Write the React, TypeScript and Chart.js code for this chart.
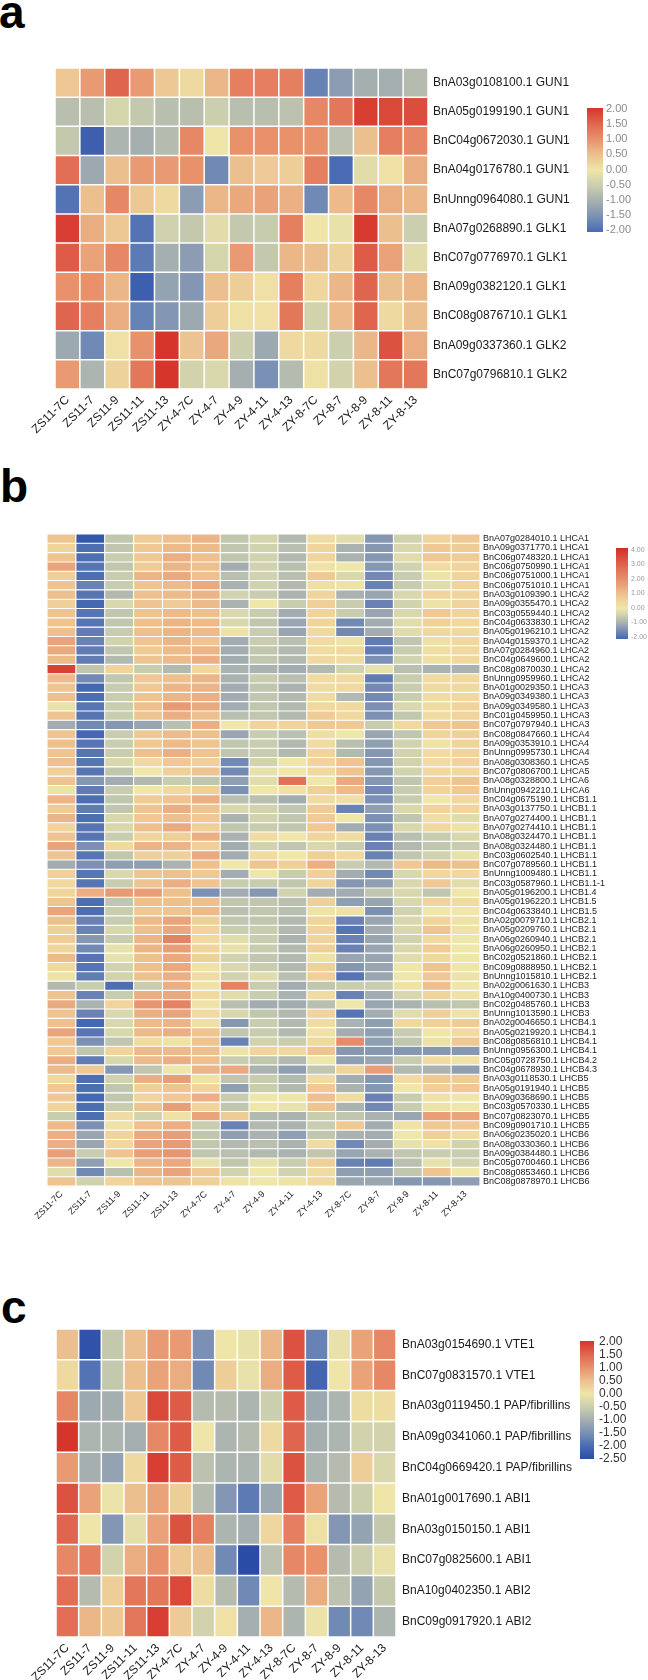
import React, { useEffect, useRef } from 'react';
import { Chart, registerables } from 'chart.js';
Chart.register(...registerables);

const COLS = ['ZS11-7C', 'ZS11-7', 'ZS11-9', 'ZS11-11', 'ZS11-13', 'ZY-4-7C', 'ZY-4-7', 'ZY-4-9', 'ZY-4-11', 'ZY-4-13', 'ZY-8-7C', 'ZY-8-7', 'ZY-8-9', 'ZY-8-11', 'ZY-8-13'];

const ROWS_A = ['BnA03g0108100.1 GUN1', 'BnA05g0199190.1 GUN1', 'BnC04g0672030.1 GUN1', 'BnA04g0176780.1 GUN1', 'BnUnng0964080.1 GUN1', 'BnA07g0268890.1 GLK1', 'BnC07g0776970.1 GLK1', 'BnA09g0382120.1 GLK1', 'BnC08g0876710.1 GLK1', 'BnA09g0337360.1 GLK2', 'BnC07g0796810.1 GLK2'];
const VALUES_A = [
  [0.4, 0.9, 1.5, 0.9, 0.4, 0.15, 0.6, 1.2, 1.2, 1.2, -1.7, -1.3, -1.0, -1.0, -0.8],
  [-0.75, -0.75, -0.35, -0.6, -0.75, -0.75, -0.5, -0.75, -0.75, -0.7, 1.1, 1.3, 1.9, 1.8, 1.75],
  [-0.6, -2.2, -0.9, -1.0, -0.8, 1.1, 0.0, 1.0, 1.0, 1.0, 1.0, -0.7, 0.5, 1.2, 1.1],
  [1.4, -1.1, 0.5, 0.9, 0.9, 1.0, -1.6, 0.5, 0.35, 0.3, 1.2, -2.0, -0.2, 0.05, 0.7],
  [-1.9, 0.5, 1.1, 0.4, 0.15, -1.3, 0.6, 0.75, 0.8, 0.65, -1.6, 0.55, 1.1, 0.7, 0.6],
  [1.9, 0.7, 0.4, -1.9, -0.45, -0.6, -0.2, -0.6, -0.55, 1.2, 0.0, -0.1, 1.95, 0.5, -0.5],
  [1.6, 0.8, 1.1, -1.8, -1.0, -1.3, -0.35, 0.9, -0.6, 0.6, 0.5, 0.25, 1.6, 0.8, -0.2],
  [1.0, 1.0, 0.6, -2.2, -1.2, -1.4, 0.5, 0.3, 0.05, 1.2, 0.2, 0.6, 1.5, 0.5, 0.6],
  [1.5, 1.2, 0.7, -1.7, -1.4, -1.1, 0.3, 0.05, 0.05, 1.3, -0.4, 0.55, 1.5, 0.15, 0.5],
  [-1.1, -1.6, 0.05, 1.0, 2.0, 0.45, 0.75, -0.5, -1.1, 0.15, 0.15, -0.5, 0.6, 1.7, 0.7],
  [0.9, -0.9, 0.25, 1.3, 2.0, -0.4, -0.3, -1.0, -1.5, -0.8, 0.05, -0.4, 0.5, 1.3, 1.3],
];

const ROWS_B = ['BnA07g0284010.1 LHCA1', 'BnA09g0371770.1 LHCA1', 'BnC06g0748320.1 LHCA1', 'BnC06g0750990.1 LHCA1', 'BnC06g0751000.1 LHCA1', 'BnC06g0751010.1 LHCA1', 'BnA03g0109390.1 LHCA2', 'BnA09g0355470.1 LHCA2', 'BnC03g0559440.1 LHCA2', 'BnC04g0633830.1 LHCA2', 'BnA05g0196210.1 LHCA2', 'BnA04g0159370.1 LHCA2', 'BnA07g0284960.1 LHCA2', 'BnC04g0649600.1 LHCA2', 'BnC08g0870030.1 LHCA2', 'BnUnng0959960.1 LHCA2', 'BnA01g0029350.1 LHCA3', 'BnA09g0349380.1 LHCA3', 'BnA09g0349580.1 LHCA3', 'BnC01g0459950.1 LHCA3', 'BnC07g0797940.1 LHCA3', 'BnC08g0847660.1 LHCA4', 'BnA09g0353910.1 LHCA4', 'BnUnng0995730.1 LHCA4', 'BnA08g0308360.1 LHCA5', 'BnC07g0806700.1 LHCA5', 'BnA08g0328800.1 LHCA6', 'BnUnng0942210.1 LHCA6', 'BnC04g0675190.1 LHCB1.1', 'BnA03g0137750.1 LHCB1.1', 'BnA07g0274400.1 LHCB1.1', 'BnA07g0274410.1 LHCB1.1', 'BnA08g0324470.1 LHCB1.1', 'BnA08g0324480.1 LHCB1.1', 'BnC03g0602540.1 LHCB1.1', 'BnC07g0789560.1 LHCB1.1', 'BnUnng1009480.1 LHCB1.1', 'BnC03g0587960.1 LHCB1.1-1', 'BnA05g0196200.1 LHCB1.4', 'BnA05g0196220.1 LHCB1.5', 'BnC04g0633840.1 LHCB1.5', 'BnA02g0079710.1 LHCB2.1', 'BnA05g0209760.1 LHCB2.1', 'BnA06g0260940.1 LHCB2.1', 'BnA06g0260950.1 LHCB2.1', 'BnC02g0521860.1 LHCB2.1', 'BnC09g0888950.1 LHCB2.1', 'BnUnng1015810.1 LHCB2.1', 'BnA02g0061630.1 LHCB3', 'BnA10g0400730.1 LHCB3', 'BnC02g0485760.1 LHCB3', 'BnUnng1013590.1 LHCB3', 'BnA02g0046650.1 LHCB4.1', 'BnA05g0219920.1 LHCB4.1', 'BnC08g0856810.1 LHCB4.1', 'BnUnng0956300.1 LHCB4.1', 'BnC05g0728750.1 LHCB4.2', 'BnC04g0678930.1 LHCB4.3', 'BnA03g0118530.1 LHCB5', 'BnA05g0191940.1 LHCB5', 'BnA09g0368690.1 LHCB5', 'BnC03g0570330.1 LHCB5', 'BnC07g0823070.1 LHCB5', 'BnC09g0901710.1 LHCB5', 'BnA06g0235020.1 LHCB6', 'BnA08g0330360.1 LHCB6', 'BnA09g0384480.1 LHCB6', 'BnC05g0700460.1 LHCB6', 'BnC08g0853460.1 LHCB6', 'BnC08g0878970.1 LHCB6'];
const VALUES_B = [
  [0.9, -2.3, -0.6, 0.7, 1.0, 1.2, -0.6, -0.35, -0.8, 0.3, -0.2, -1.3, -0.4, 0.5, 0.8],
  [0.5, -1.9, -0.6, 0.8, 1.1, 1.1, -0.6, -0.4, -0.7, 0.5, -0.9, -1.3, -0.3, 0.8, 0.7],
  [0.9, -1.9, -0.5, 0.8, 1.3, 1.0, -0.6, -0.4, -0.8, 0.5, -0.9, -1.3, -0.2, 0.8, 0.7],
  [1.5, -1.8, -0.6, 0.7, 1.2, 1.0, -1.0, -0.4, -0.7, 0.1, 0.0, -1.3, -0.4, 0.3, 0.5],
  [0.6, -1.9, -0.5, 1.2, 1.4, 1.0, -0.7, -0.4, -0.7, 0.8, -0.3, -1.5, -0.5, 0.1, 0.5],
  [0.9, -1.6, -0.5, 0.9, 1.1, 1.4, -0.9, -0.4, -0.8, 0.2, 0.1, -1.6, -0.5, -0.2, 0.5],
  [1.0, -1.8, -0.8, 1.0, 1.1, 1.2, -0.4, -0.5, -0.9, 0.5, -0.9, -1.1, -0.3, 0.5, 0.5],
  [0.6, -2.0, -0.3, 0.9, 0.7, 1.1, -0.9, 0.0, -0.5, 0.6, -0.5, -1.6, -0.4, 0.1, 0.5],
  [0.9, -1.8, -0.6, 0.9, 1.1, 1.0, -0.3, -0.5, -1.0, 0.5, -0.5, -1.1, -0.3, 0.8, 0.5],
  [0.9, -1.8, -0.6, 1.0, 1.2, 1.1, -0.3, -0.6, -1.1, 0.5, -1.5, -1.0, -0.2, 0.6, 0.4],
  [1.0, -1.7, -0.5, 1.0, 1.2, 1.1, 0.1, -0.5, -1.1, 0.4, -1.5, -1.0, -0.2, 0.4, 0.4],
  [1.5, -1.6, -0.4, 0.9, 1.2, 0.9, -1.0, -0.5, -0.7, 0.3, 0.1, -1.7, -0.6, 0.2, 0.4],
  [1.4, -1.7, -0.6, 0.7, 1.1, 1.2, -1.0, -0.6, -0.8, 0.3, 0.4, -1.7, -0.5, 0.2, 0.4],
  [1.1, -1.7, -0.8, 0.9, 1.1, 1.3, -1.0, -0.6, -0.8, 0.4, 0.3, -1.4, -0.4, 0.2, 0.4],
  [3.6, -0.6, 0.5, -0.5, -0.8, 0.4, -0.9, -0.9, -1.0, -0.8, -0.4, -0.1, -0.7, -0.9, -0.9],
  [1.1, -1.5, -0.6, 0.8, 1.0, 1.2, -0.9, -0.5, -0.7, 0.3, 0.3, -1.7, -0.5, 0.3, 0.4],
  [0.9, -2.0, -0.5, 0.8, 1.2, 1.2, -1.0, -0.6, -0.9, 0.3, 0.4, -1.5, -0.5, 0.4, 0.4],
  [1.0, -1.9, -0.5, 0.9, 1.2, 1.3, -1.0, -0.6, -0.8, 0.3, -0.8, -1.5, -0.5, 0.3, 0.4],
  [-0.1, -1.8, -0.5, 1.0, 1.7, 1.4, -1.0, -0.6, -0.8, 0.4, 0.4, -1.4, -0.3, 0.3, 0.5],
  [0.9, -1.8, -0.5, 0.9, 1.3, 1.0, -0.7, -0.6, -0.8, 0.7, 0.4, -1.4, -0.6, 0.3, 0.5],
  [-1.0, -1.5, -1.3, -1.1, -0.7, 1.3, 0.0, 0.5, 0.5, 0.8, 0.8, -0.5, 0.4, 0.8, 0.9],
  [0.9, -2.0, -0.5, 0.8, 1.1, 1.0, -1.1, -0.5, -0.7, 0.2, 0.0, -1.1, -0.6, 0.5, 0.6],
  [1.0, -1.8, -0.5, 0.8, 1.1, 0.9, -0.6, -0.5, -0.8, 0.3, -0.7, -1.2, -0.4, 0.1, 0.5],
  [0.9, -1.8, -0.5, 1.0, 1.3, 0.9, -0.6, -0.5, -0.8, 0.5, -0.8, -1.3, -0.4, 0.3, 0.5],
  [1.0, -1.8, -0.3, 0.4, 0.8, 0.6, -1.5, -0.4, 0.0, 0.5, 0.9, -1.3, -0.4, 0.3, 0.5],
  [0.6, -1.8, -0.6, 0.0, 0.6, 0.9, -1.5, -0.1, 0.0, 0.4, 0.9, -1.3, -0.4, 0.4, 0.4],
  [0.9, -1.3, -1.0, -0.8, -0.5, -0.6, -1.2, -0.2, 2.6, 0.0, 1.4, -1.3, -0.6, 0.6, 0.9],
  [0.1, -1.7, -0.5, 0.0, 0.4, 0.6, -1.4, 0.0, 0.1, 0.6, 1.1, -1.5, -0.5, 0.5, 0.8],
  [1.2, -1.9, -0.6, 0.7, 0.9, 1.3, -0.7, -0.7, -1.0, 0.3, 0.2, -1.4, -0.5, 0.0, 0.4],
  [0.7, -1.7, -0.6, 0.9, 1.3, 0.9, -0.3, -0.4, -0.6, 0.7, -1.6, -1.2, -0.3, 0.5, 0.5],
  [1.2, -1.9, -0.3, 0.8, 1.0, 0.8, -0.9, -0.4, -0.6, 0.7, 0.0, -1.4, -0.6, 0.2, -0.2],
  [0.5, -1.8, -0.3, 1.0, 1.4, 0.6, -0.6, -0.5, -0.6, 0.8, -1.0, -1.4, -0.3, 0.4, 0.1],
  [0.9, -1.8, -0.5, 0.5, 0.6, 1.3, -0.9, 0.3, 0.0, 0.5, 0.3, -1.6, -0.7, -0.5, -0.3],
  [1.5, -1.4, 0.4, 1.2, 1.2, 0.6, -1.0, -0.4, -0.6, -0.3, -0.5, -1.6, -0.8, -0.6, -0.5],
  [0.9, -1.8, -0.6, 0.6, 0.6, 1.4, -1.0, 0.3, 0.0, 0.6, 0.4, -1.6, -0.6, -0.4, -0.1],
  [-1.0, -1.4, -1.2, -1.2, -0.9, 1.0, 0.0, 0.9, 0.6, 1.3, -0.5, -0.8, 0.8, 1.1, 1.0],
  [0.6, -1.8, -0.3, 0.9, 1.0, 0.8, -1.0, 0.0, -0.5, 0.6, -1.0, -1.5, -0.3, 0.4, 0.4],
  [0.4, -1.8, -0.5, 0.9, 1.3, 0.9, -0.5, -0.5, -0.6, 0.5, -1.3, -1.2, -0.3, 0.8, -0.2],
  [0.5, 1.3, 1.7, 1.6, 1.0, -1.4, -1.0, -1.3, -0.4, -1.0, -1.0, -0.6, -0.3, -0.6, 0.0],
  [0.9, -1.9, -0.6, 1.0, 1.0, 1.0, -0.6, -0.6, -0.7, 0.6, -1.2, -1.1, -0.3, 0.5, 0.3],
  [1.5, -1.9, -0.5, 0.8, 0.9, 1.1, -0.7, -0.6, -0.7, 0.1, 0.1, -1.4, -0.4, 0.0, 0.0],
  [1.0, -1.6, -0.5, 1.1, 1.5, 0.6, -0.6, -0.6, -0.8, 0.5, -1.6, -1.1, -0.3, 0.5, 0.1],
  [0.6, -1.6, -0.3, 1.0, 1.4, 0.5, -0.5, -0.5, -0.8, 0.5, -1.8, -1.0, -0.3, 0.9, 0.1],
  [0.7, -1.3, -0.5, 1.2, 2.2, 0.4, -0.2, -0.5, -0.9, 0.5, -1.6, -1.1, -0.4, 0.4, 0.0],
  [0.5, -1.5, -0.1, 1.2, 1.6, 0.5, -0.1, -0.5, -0.8, 0.6, -1.6, -1.1, -0.3, 0.7, 0.0],
  [1.1, -1.8, -0.1, 1.0, 1.4, 0.6, -0.4, -0.6, -0.8, 0.1, -1.1, -1.1, -0.2, 0.4, 0.0],
  [0.4, -1.8, -0.4, 1.0, 1.4, 0.1, -0.3, -0.5, -0.8, 0.6, -1.3, -1.1, 0.0, 0.9, 0.0],
  [0.1, -1.7, -0.4, 1.0, 1.3, 0.3, -0.4, -0.2, -0.7, 0.6, -1.8, -1.1, 0.0, 0.8, 0.1],
  [-0.8, -0.5, -1.9, -0.5, 1.3, 0.1, 2.2, -0.5, -1.0, -0.6, -0.5, -0.5, 0.1, 1.0, 0.0],
  [0.9, -1.6, -0.5, 1.3, 1.4, 0.4, -0.2, -0.5, -0.9, 0.3, -1.6, -1.0, -0.3, 0.5, 0.1],
  [1.4, -0.9, 0.5, 1.8, 2.2, 0.1, -0.7, -1.0, -1.0, -0.7, 0.0, -1.1, -0.9, -0.7, -0.6],
  [0.9, -1.6, -0.3, 1.3, 1.5, 0.3, -0.3, -0.6, -0.8, 0.5, -1.8, -1.0, -0.2, 0.6, 0.1],
  [1.0, -2.0, -0.3, 1.1, 1.2, 0.2, -1.3, -0.5, -0.8, 0.3, -0.9, -1.2, 0.4, 0.6, 0.7],
  [1.5, -1.8, -0.3, 1.1, 1.3, 0.9, -0.6, -0.5, -0.8, 0.1, -1.0, -1.2, -0.5, 0.0, 0.3],
  [0.8, -1.4, -0.6, 0.3, 0.1, 0.9, -1.6, -0.4, -0.5, 0.4, 2.0, -1.2, -0.6, 0.1, 0.8],
  [0.8, -0.6, 0.5, 1.1, 1.1, 1.0, 0.1, 0.5, 0.4, 0.9, -1.3, -1.3, -1.3, -1.3, -1.3],
  [1.3, -1.7, -0.3, 1.1, 1.3, 1.0, -0.5, -0.6, -0.8, 0.0, -1.2, -1.1, -0.5, 0.3, 0.1],
  [1.1, 0.8, -1.3, -0.6, 0.0, 1.2, 1.4, -0.9, -1.2, -0.6, 0.5, 1.6, -0.8, -0.9, -1.2],
  [0.4, -1.9, -0.4, 1.3, 1.6, 0.1, -0.6, -0.5, -0.8, 0.3, -1.0, -1.3, 0.3, 0.8, 0.7],
  [0.8, -1.9, -0.6, 0.6, 0.9, 0.5, -1.2, -0.5, -0.8, 0.8, -0.9, -1.3, 0.0, 0.6, 0.8],
  [0.8, -2.0, -0.6, 0.5, 0.8, 1.3, -0.5, 0.0, 0.0, 1.0, 0.3, -1.6, -0.5, 0.1, 0.0],
  [0.5, -1.9, -0.5, 0.9, 1.6, 0.5, -0.6, 0.0, -0.1, 0.9, -0.9, -1.5, -0.5, 0.1, 0.0],
  [-0.5, -1.9, 0.3, -0.4, 0.1, 1.5, 0.7, -0.8, -0.9, -0.5, -0.6, -0.9, -1.1, 1.6, 1.5],
  [1.1, -1.4, 0.1, 1.0, 1.3, -0.5, -1.6, -0.8, -0.9, -0.5, 0.8, -1.0, 0.1, 0.8, 0.8],
  [1.3, -1.1, 0.5, 1.4, 1.6, -0.6, -1.2, -0.9, -1.2, -0.6, -0.9, -1.0, 0.0, 0.6, 0.3],
  [1.3, -1.1, 0.4, 1.5, 1.7, -0.6, -0.8, -0.7, -0.9, 0.3, -1.5, -1.0, -0.1, 0.1, -0.4],
  [1.6, -0.5, 0.9, 1.6, 1.8, -0.6, -0.7, -0.8, -0.9, -0.6, -1.1, -0.9, -0.6, -0.5, -0.5],
  [1.2, -1.2, 0.0, 1.2, 1.4, -0.1, -0.6, -0.1, -0.5, 0.6, -1.6, -1.7, -0.7, -0.1, -0.4],
  [-0.2, -1.5, -0.7, 1.2, 1.5, 0.8, -0.4, 0.0, -0.4, 0.3, -1.2, -1.2, -0.6, 0.9, 0.0],
  [0.9, -0.4, 0.5, 0.9, 0.9, 0.6, 0.1, 0.0, 0.1, 0.4, -1.1, -1.1, -1.3, -1.3, -1.2],
];

const ROWS_C = ['BnA03g0154690.1 VTE1', 'BnC07g0831570.1 VTE1', 'BnA03g0119450.1 PAP/fibrillins', 'BnA09g0341060.1 PAP/fibrillins', 'BnC04g0669420.1 PAP/fibrillins', 'BnA01g0017690.1 ABI1', 'BnA03g0150150.1 ABI1', 'BnC07g0825600.1 ABI1', 'BnA10g0402350.1 ABI2', 'BnC09g0917920.1 ABI2'];
const VALUES_C = [
  [0.5, -2.4, -0.6, 0.5, 0.9, 0.9, -1.5, 0.0, -0.1, 0.6, 1.7, -1.7, -0.1, 0.8, 1.1],
  [0.15, -1.9, -0.6, 0.5, 0.8, 0.7, -1.6, 0.3, -0.1, 0.7, 1.6, -2.1, 0.0, 0.8, 1.1],
  [1.1, -1.1, -1.0, 0.4, 1.8, 1.6, -0.8, -0.8, -0.9, -0.5, 1.6, -1.1, -0.9, 0.1, 0.1],
  [2.0, -0.9, -0.9, -1.0, 1.1, 1.6, 0.0, -0.9, -0.8, 0.15, 1.5, -1.0, -0.9, -0.4, -0.4],
  [0.9, -1.0, -1.2, 0.15, 1.9, 1.6, -0.7, -0.9, -0.9, -0.2, 1.7, -0.9, -0.8, 0.3, -0.3],
  [1.7, 0.8, -0.05, 0.5, 0.8, 0.3, -0.8, -1.4, -1.8, -1.1, 1.6, 0.8, -0.8, -0.5, 0.0],
  [1.5, 0.0, -1.4, -0.15, 0.8, 1.7, 1.2, -0.9, -1.0, 0.2, 1.2, 0.05, -1.4, -1.2, -0.6],
  [1.1, 1.2, -0.4, 0.7, 1.0, 0.4, 0.5, -1.6, -2.5, -0.7, 1.1, 1.0, -0.8, -0.5, -0.1],
  [1.4, -0.8, 0.3, 1.3, 1.3, 1.8, 0.1, -0.8, -1.6, 0.0, -0.8, 0.7, -0.7, -1.2, -0.6],
  [1.4, 0.6, 0.4, 1.3, 1.9, 0.35, -0.4, 0.05, -1.0, 0.6, -0.9, -0.05, -1.6, -1.6, -0.9],
];

const LEGEND_A = [2, 1.5, 1, 0.5, 0, -0.5, -1, -1.5, -2];
const LEGEND_B = [4, 3, 2, 1, 0, -1, -2];
const LEGEND_C = [2, 1.5, 1, 0.5, 0, -0.5, -1, -1.5, -2, -2.5];

const STOPS_AC: [number, string][] = [
  [-2.5, '#2a4ca6'], [-2, '#4a6bb4'], [-1.5, '#7a91b5'], [-1, '#a6afb0'], [-0.5, '#cbcfae'],
  [0, '#efe5a8'], [0.5, '#ecbf8f'], [1, '#e8916b'], [1.5, '#e0654f'], [2, '#d6352b'],
];
const STOPS_B: [number, string][] = [
  [-2.3, '#3358ab'], [-2, '#4468b2'], [-1.5, '#7289b3'], [-1, '#a3adb1'], [-0.5, '#c9cdaf'],
  [0, '#efe6aa'], [0.5, '#f0d49c'], [1, '#eec08e'], [1.5, '#e9a47c'], [2, '#e58d6a'], [3, '#dd6148'], [4, '#d42b27'],
];

const FONT = 'Liberation Sans, Arial, Helvetica, sans-serif';

function hexRgb(h: string) {
  const n = parseInt(h.slice(1), 16);
  return [(n >> 16) & 255, (n >> 8) & 255, n & 255];
}
function colorFor(v: number, stops: [number, string][]) {
  if (v <= stops[0][0]) return stops[0][1];
  if (v >= stops[stops.length - 1][0]) return stops[stops.length - 1][1];
  for (let i = 0; i < stops.length - 1; i++) {
    const [a, ca] = stops[i];
    const [b, cb] = stops[i + 1];
    if (v >= a && v <= b) {
      const t = (v - a) / (b - a);
      const x = hexRgb(ca), y = hexRgb(cb);
      const c = x.map((k, j) => Math.round(k + (y[j] - k) * t));
      return `rgb(${c[0]},${c[1]},${c[2]})`;
    }
  }
  return stops[0][1];
}

type Bar = { x: number; y: number; w: number; h: number; min: number; max: number; ticks: number[]; labelX: number; lt: number; lb: number; font: string; color: string };

function colorbarPlugin(bar: Bar, stops: [number, string][]) {
  return {
    id: 'colorbar',
    afterDraw(chart: any) {
      const ctx = chart.ctx;
      ctx.save();
      const g = ctx.createLinearGradient(0, bar.y, 0, bar.y + bar.h);
      for (let k = 0; k <= 60; k++) {
        const t = k / 60;
        g.addColorStop(t, colorFor(bar.max - t * (bar.max - bar.min), stops));
      }
      ctx.fillStyle = g;
      ctx.fillRect(bar.x, bar.y, bar.w, bar.h);
      ctx.font = bar.font;
      ctx.fillStyle = bar.color;
      ctx.textAlign = 'left';
      ctx.textBaseline = 'middle';
      bar.ticks.forEach((v) => {
        const ty = bar.lt + ((bar.max - v) / (bar.max - bar.min)) * (bar.lb - bar.lt);
        ctx.fillText(v.toFixed(2), bar.labelX, ty);
      });
      ctx.restore();
    },
  };
}

type HMProps = {
  top: number; height: number; rows: string[]; values: number[][]; stops: [number, string][];
  padLeft: number; padTop: number; xH: number; y2W: number; rowSize: number; colSize: number;
  rowPad: number; colPad: number; color: string; bw: number; bar: Bar;
};

function Heatmap(p: HMProps) {
  const ref = useRef<HTMLCanvasElement>(null);
  useEffect(() => {
    const canvas = ref.current!;
    const n = p.rows.length;
    const chart = new Chart(canvas, {
      type: 'bar',
      data: {
        labels: COLS,
        datasets: p.rows.map((r, i) => ({
          label: r,
          data: COLS.map(() => [i, i + 1]),
          backgroundColor: p.values[i].map((v) => colorFor(v, p.stops)),
          borderColor: '#ffffff',
          borderWidth: p.bw,
          borderSkipped: false,
          barPercentage: 1,
          categoryPercentage: 1,
          grouped: false,
          inflateAmount: 0,
          yAxisID: 'y',
        })) as any,
      },
      options: {
        responsive: false,
        animation: false,
        devicePixelRatio: 1,
        events: [],
        layout: { padding: { left: p.padLeft, top: p.padTop, right: 0, bottom: 0 } },
        plugins: { legend: { display: false }, tooltip: { enabled: false } },
        scales: {
          x: {
            type: 'category',
            offset: true,
            grid: { display: false, drawTicks: false },
            border: { display: false },
            ticks: { autoSkip: false, minRotation: 45, maxRotation: 45, padding: p.colPad, color: p.color, font: { family: FONT, size: p.colSize } },
            afterFit: (s: any) => { s.height = p.xH; },
          },
          y: { type: 'linear', min: 0, max: n, reverse: true, display: false },
          y2: {
            type: 'category',
            labels: p.rows,
            position: 'right',
            offset: true,
            grid: { display: false, drawTicks: false },
            border: { display: false },
            ticks: { autoSkip: false, padding: p.rowPad, color: p.color, font: { family: FONT, size: p.rowSize } },
            afterFit: (s: any) => { s.width = p.y2W; },
          },
        } as any,
      },
      plugins: [colorbarPlugin(p.bar, p.stops)],
    });
    return () => chart.destroy();
  }, []);
  return (
    <canvas
      ref={ref}
      width={648}
      height={p.height}
      style={{ position: 'absolute', left: 0, top: p.top, width: 648, height: p.height }}
    />
  );
}

const letterStyle = (top: number, left: number): React.CSSProperties => ({
  position: 'absolute', top, left, fontFamily: FONT, fontWeight: 700, fontSize: 46, lineHeight: '46px', color: '#000',
});

export default function App() {
  return (
    <div style={{ position: 'absolute', left: 0, top: 0, width: 648, height: 1680, background: '#fff', overflow: 'hidden' }}>
      <div style={letterStyle(-11, -1)}>a</div>
      <div style={letterStyle(463, 0)}>b</div>
      <div style={letterStyle(1284, 1)}>c</div>
      <Heatmap
        top={0} height={470} rows={ROWS_A} values={VALUES_A} stops={STOPS_AC}
        padLeft={55} padTop={68} xH={81} y2W={220} rowSize={12} colSize={12} rowPad={5} colPad={4}
        color="#1a1a1a" bw={0.75}
        bar={{ x: 587, y: 108, w: 16, h: 124, min: -2, max: 2, ticks: LEGEND_A, labelX: 606, lt: 109, lb: 230, font: `11px ${FONT}`, color: '#8a8a8a' }}
      />
      <Heatmap
        top={440} height={800} rows={ROWS_B} values={VALUES_B} stops={STOPS_B}
        padLeft={47} padTop={94} xH={54} y2W={168} rowSize={9} colSize={9} rowPad={3} colPad={3}
        color="#222" bw={0.55}
        bar={{ x: 616, y: 108, w: 12, h: 91, min: -2, max: 4, ticks: LEGEND_B, labelX: 631, lt: 110, lb: 197, font: `7px ${FONT}`, color: '#999' }}
      />
      <Heatmap
        top={1240} height={440} rows={ROWS_C} values={VALUES_C} stops={STOPS_AC}
        padLeft={56} padTop={89} xH={43} y2W={252} rowSize={12} colSize={12} rowPad={6} colPad={4}
        color="#1a1a1a" bw={0.75}
        bar={{ x: 580, y: 101, w: 14, h: 118, min: -2.5, max: 2, ticks: LEGEND_C, labelX: 599, lt: 102, lb: 219, font: `12px ${FONT}`, color: '#333' }}
      />
    </div>
  );
}
